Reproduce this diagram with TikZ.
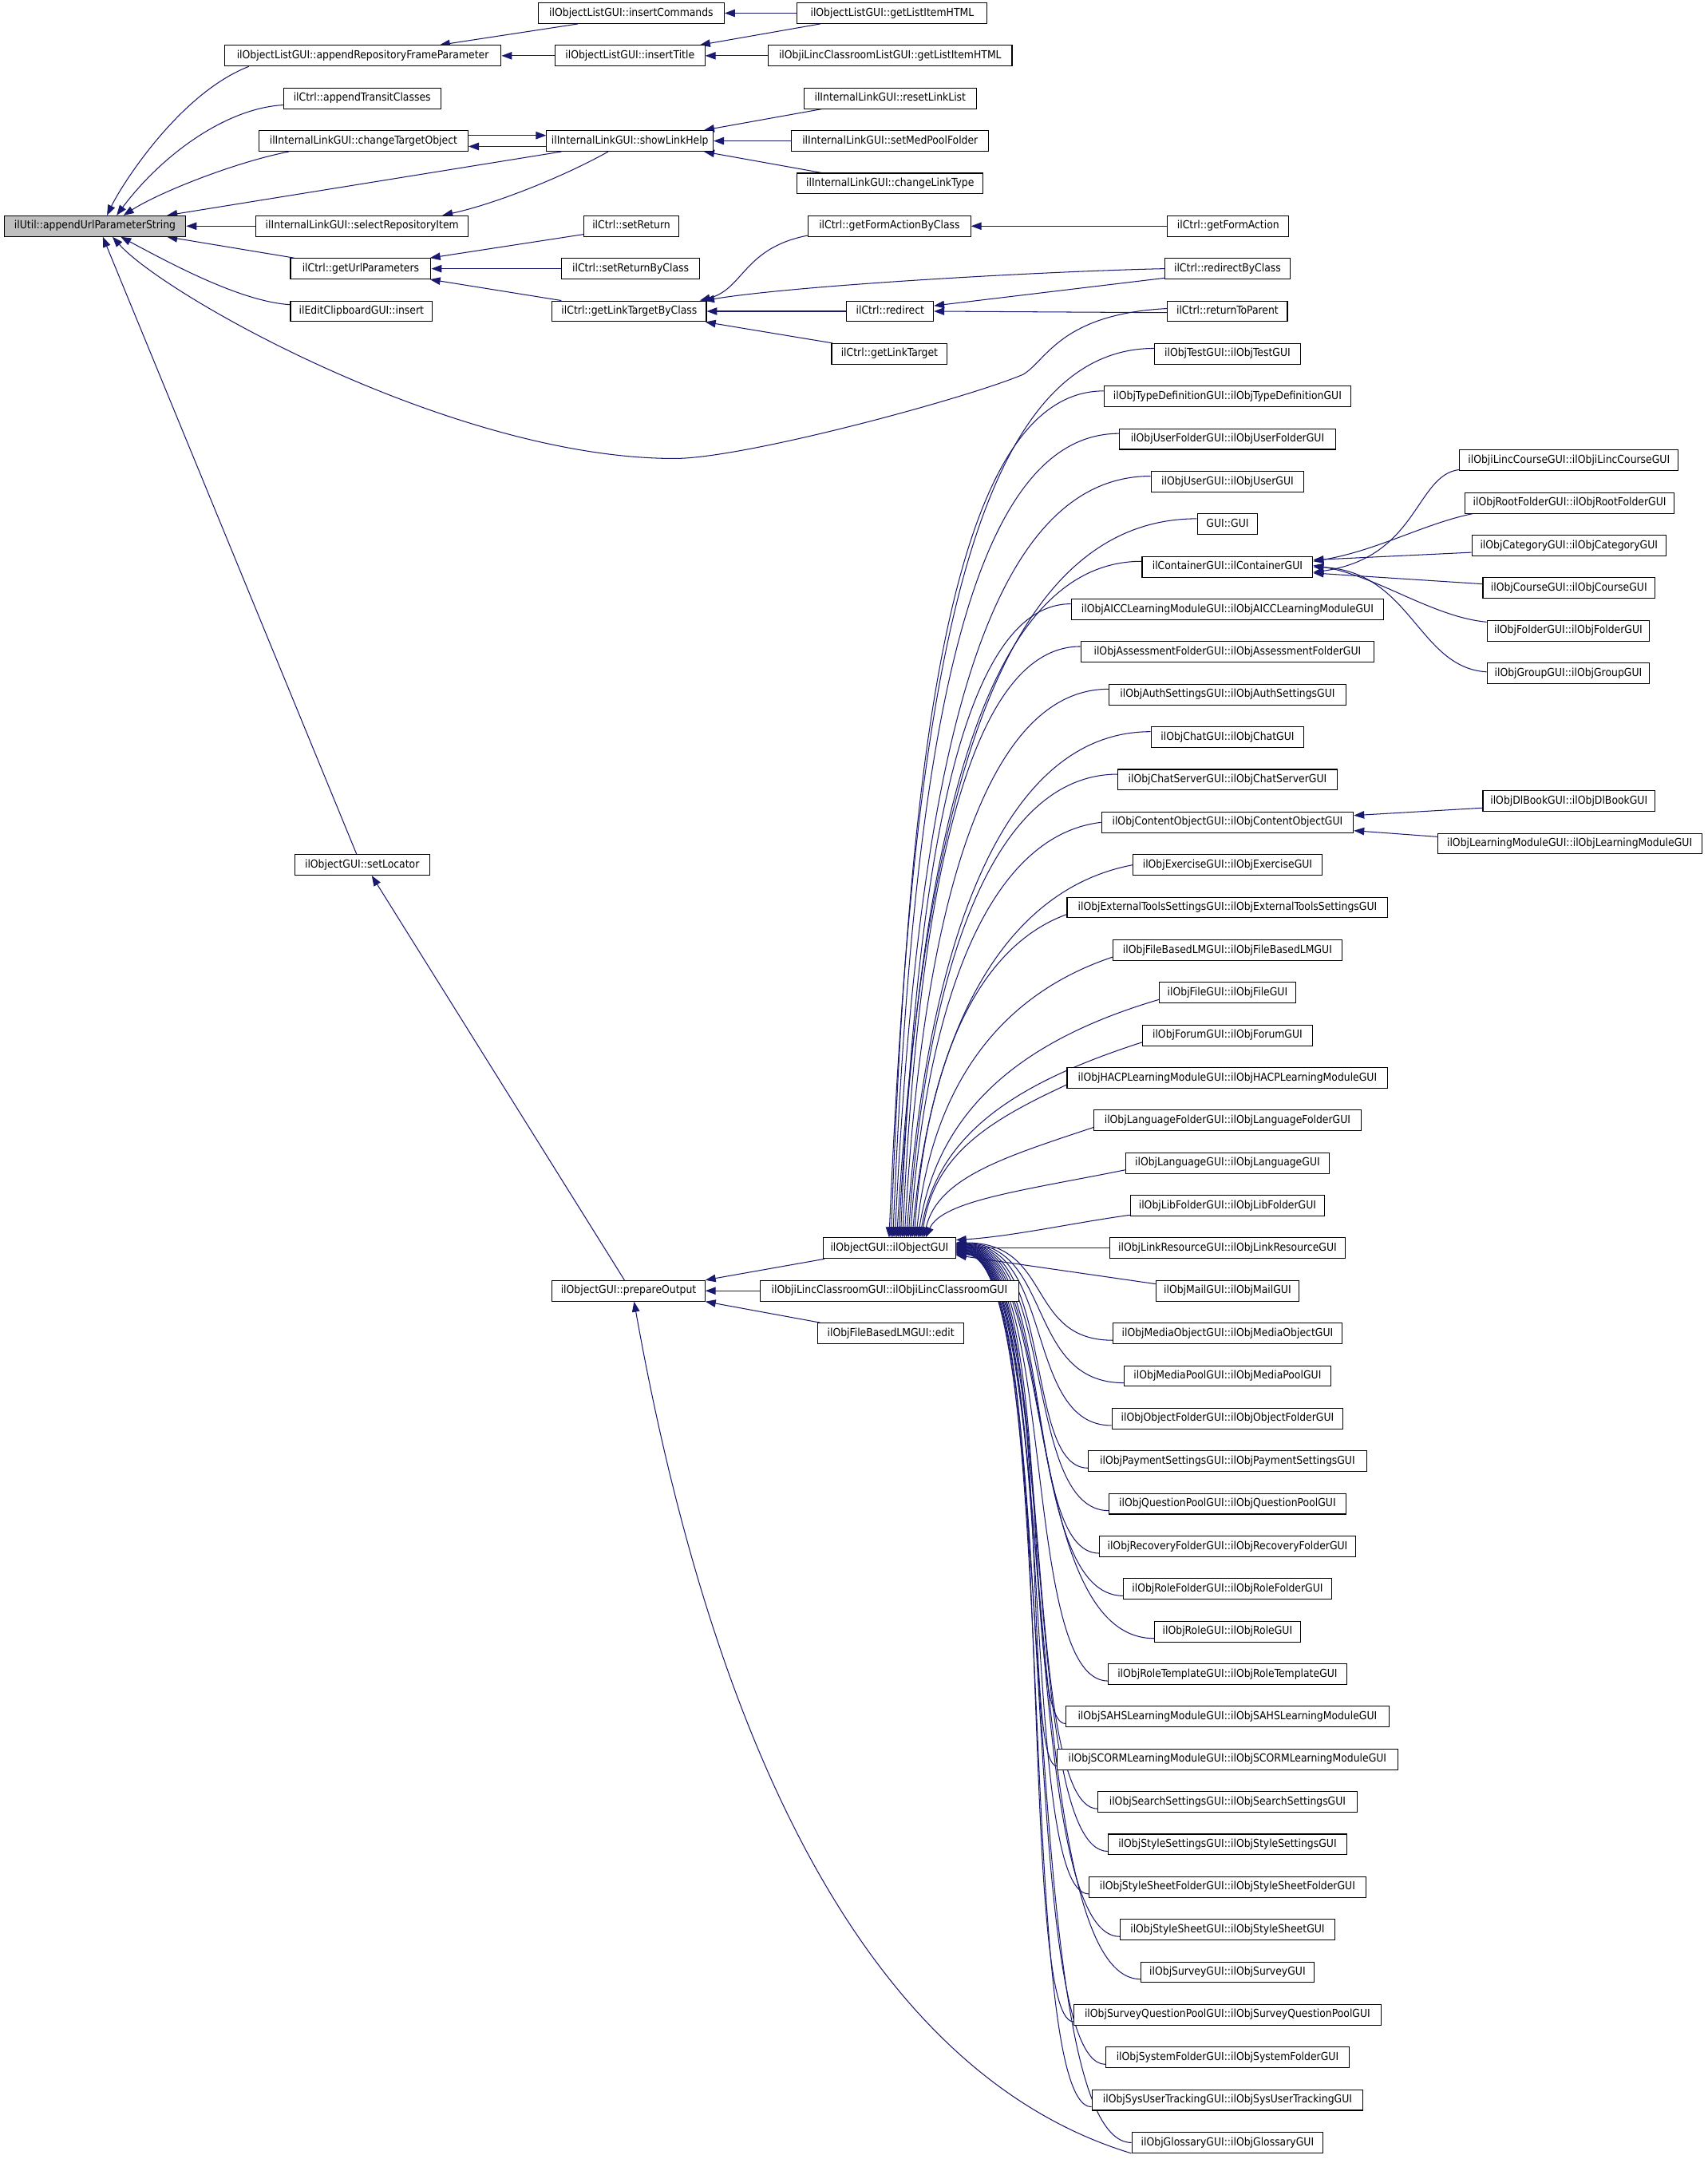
\documentclass[tikz,border=0pt]{standalone}
\usepackage{fontspec}
\setmainfont{DejaVu Sans Condensed}
\usetikzlibrary{arrows.meta,calc,backgrounds}
\definecolor{edgeblue}{HTML}{191970}
\definecolor{rootgray}{HTML}{BFBFBF}
\newcommand{\rowy}[1]{257+30.93*(#1)}
\begin{document}
\begin{tikzpicture}[x=1pt,y=-1pt,
 bx/.style={draw=black,line width=0.6pt,fill=white,minimum width=#1pt,minimum height=15pt,inner xsep=1pt,inner ysep=0pt,font=\fontsize{8}{9}\selectfont,text height=6pt,text depth=1.8pt},
 ed/.style={draw=edgeblue,line width=0.6pt,{Triangle[length=7.5pt,width=5.5pt]}-}]
\useasboundingbox (0,0) rectangle (1240,1568);
% root
\node[bx=132,fill=rootgray] (r) at (69,{\rowy{-3}}) {ilUtil::appendUrlParameterString};
% column 1
\node[bx=201] (arf) at (263.5,{\rowy{-7}}) {ilObjectListGUI::appendRepositoryFrameParameter};
\node[bx=114] (atc) at (263,{\rowy{-6}}) {ilCtrl::appendTransitClasses};
\node[bx=152] (cto) at (264,{\rowy{-5}}) {ilInternalLinkGUI::changeTargetObject};
\node[bx=154] (sri) at (263,{\rowy{-3}}) {ilInternalLinkGUI::selectRepositoryItem};
\node[bx=102] (gup) at (262,{\rowy{-2}}) {ilCtrl::getUrlParameters};
\node[bx=103] (eci) at (262.5,{\rowy{-1}}) {ilEditClipboardGUI::insert};
\node[bx=98] (slo) at (263,{\rowy{12}}) {ilObjectGUI::setLocator};
% column 2
\node[bx=135] (ic) at (458.5,{\rowy{-8}}) {ilObjectListGUI::insertCommands};
\node[bx=109] (it) at (457.5,{\rowy{-7}}) {ilObjectListGUI::insertTitle};
\node[bx=121] (slh) at (457.5,{\rowy{-5}}) {ilInternalLinkGUI::showLinkHelp};
\node[bx=69] (sr) at (458.5,{\rowy{-3}}) {ilCtrl::setReturn};
\node[bx=100] (srb) at (458,{\rowy{-2}}) {ilCtrl::setReturnByClass};
\node[bx=112] (gltc) at (457,{\rowy{-1}}) {ilCtrl::getLinkTargetByClass};
\node[bx=111] (po) at (456.5,{\rowy{22}}) {ilObjectGUI::prepareOutput};
% column 3
\node[bx=138] (glih) at (648,{\rowy{-8}}) {ilObjectListGUI::getListItemHTML};
\node[bx=177] (lclh) at (646.5,{\rowy{-7}}) {ilObjiLincClassroomListGUI::getListItemHTML};
\node[bx=125] (rll) at (646.5,{\rowy{-6}}) {ilInternalLinkGUI::resetLinkList};
\node[bx=143] (smpf) at (646.5,{\rowy{-5}}) {ilInternalLinkGUI::setMedPoolFolder};
\node[bx=135] (clt) at (646.5,{\rowy{-4}}) {ilInternalLinkGUI::changeLinkType};
\node[bx=118] (gfabc) at (646,{\rowy{-3}}) {ilCtrl::getFormActionByClass};
\node[bx=63] (red) at (646.5,{\rowy{-1}}) {ilCtrl::redirect};
\node[bx=84] (glt) at (646,{\rowy{0}}) {ilCtrl::getLinkTarget};
\node[bx=96] (og) at (646,{\rowy{21}}) {ilObjectGUI::ilObjectGUI};
\node[bx=188] (lcg) at (646,{\rowy{22}}) {ilObjiLincClassroomGUI::ilObjiLincClassroomGUI};
\node[bx=106] (fbe) at (647,{\rowy{23}}) {ilObjFileBasedLMGUI::edit};
% column 4
\node[bx=88] (gfa) at (892,{\rowy{-3}}) {ilCtrl::getFormAction};
\node[bx=91] (rbc) at (891.5,{\rowy{-2}}) {ilCtrl::redirectByClass};
\node[bx=87] (rtp) at (891.5,{\rowy{-1}}) {ilCtrl::returnToParent};
\foreach \k/\w/\t in {
0/106/{ilObjTestGUI::ilObjTestGUI},
1/179/{ilObjTypeDefinitionGUI::ilObjTypeDefinitionGUI},
2/157/{ilObjUserFolderGUI::ilObjUserFolderGUI},
3/111/{ilObjUserGUI::ilObjUserGUI},
4/44/{GUI::GUI},
5/124/{ilContainerGUI::ilContainerGUI},
6/227/{ilObjAICCLearningModuleGUI::ilObjAICCLearningModuleGUI},
7/213/{ilObjAssessmentFolderGUI::ilObjAssessmentFolderGUI},
8/172/{ilObjAuthSettingsGUI::ilObjAuthSettingsGUI},
9/111/{ilObjChatGUI::ilObjChatGUI},
10/159/{ilObjChatServerGUI::ilObjChatServerGUI},
11/183/{ilObjContentObjectGUI::ilObjContentObjectGUI},
12/137/{ilObjExerciseGUI::ilObjExerciseGUI},
13/233/{ilObjExternalToolsSettingsGUI::ilObjExternalToolsSettingsGUI},
14/166/{ilObjFileBasedLMGUI::ilObjFileBasedLMGUI},
15/99/{ilObjFileGUI::ilObjFileGUI},
16/123/{ilObjForumGUI::ilObjForumGUI},
17/233/{ilObjHACPLearningModuleGUI::ilObjHACPLearningModuleGUI},
18/194/{ilObjLanguageFolderGUI::ilObjLanguageFolderGUI},
19/148/{ilObjLanguageGUI::ilObjLanguageGUI},
20/141/{ilObjLibFolderGUI::ilObjLibFolderGUI},
21/171/{ilObjLinkResourceGUI::ilObjLinkResourceGUI},
22/104/{ilObjMailGUI::ilObjMailGUI},
23/166/{ilObjMediaObjectGUI::ilObjMediaObjectGUI},
24/150/{ilObjMediaPoolGUI::ilObjMediaPoolGUI},
25/168/{ilObjObjectFolderGUI::ilObjObjectFolderGUI},
26/202/{ilObjPaymentSettingsGUI::ilObjPaymentSettingsGUI},
27/172/{ilObjQuestionPoolGUI::ilObjQuestionPoolGUI},
28/186/{ilObjRecoveryFolderGUI::ilObjRecoveryFolderGUI},
29/151/{ilObjRoleFolderGUI::ilObjRoleFolderGUI},
30/106/{ilObjRoleGUI::ilObjRoleGUI},
31/173/{ilObjRoleTemplateGUI::ilObjRoleTemplateGUI},
32/235/{ilObjSAHSLearningModuleGUI::ilObjSAHSLearningModuleGUI},
33/247/{ilObjSCORMLearningModuleGUI::ilObjSCORMLearningModuleGUI},
34/188/{ilObjSearchSettingsGUI::ilObjSearchSettingsGUI},
35/173/{ilObjStyleSettingsGUI::ilObjStyleSettingsGUI},
36/201/{ilObjStyleSheetFolderGUI::ilObjStyleSheetFolderGUI},
37/156/{ilObjStyleSheetGUI::ilObjStyleSheetGUI},
38/126/{ilObjSurveyGUI::ilObjSurveyGUI},
39/223/{ilObjSurveyQuestionPoolGUI::ilObjSurveyQuestionPoolGUI},
40/177/{ilObjSystemFolderGUI::ilObjSystemFolderGUI},
41/197/{ilObjSysUserTrackingGUI::ilObjSysUserTrackingGUI},
42/139/{ilObjGlossaryGUI::ilObjGlossaryGUI}}{
 \node[bx=\w] (c\k) at (891.5,{\rowy{\k}}) {\t};
}
% column 5
\node[bx=159] (lcc) at (1139.5,{\rowy{2.5}}) {ilObjiLincCourseGUI::ilObjiLincCourseGUI};
\node[bx=152] (rfg) at (1140,{\rowy{3.5}}) {ilObjRootFolderGUI::ilObjRootFolderGUI};
\node[bx=141] (cat) at (1139.5,{\rowy{4.5}}) {ilObjCategoryGUI::ilObjCategoryGUI};
\node[bx=125] (crs) at (1139.5,{\rowy{5.5}}) {ilObjCourseGUI::ilObjCourseGUI};
\node[bx=118] (fld) at (1139,{\rowy{6.5}}) {ilObjFolderGUI::ilObjFolderGUI};
\node[bx=118] (grp) at (1139,{\rowy{7.5}}) {ilObjGroupGUI::ilObjGroupGUI};
\node[bx=125] (dlb) at (1139.5,{\rowy{10.5}}) {ilObjDlBookGUI::ilObjDlBookGUI};
\node[bx=192] (lm) at (1140,{\rowy{11.5}}) {ilObjLearningModuleGUI::ilObjLearningModuleGUI};

\begin{pgfonlayer}{background}
\fill[white] (0,0) rectangle (1240,1568);
% into root
\draw[ed] ($(r.north west)+(75,0)$) .. controls (88,135) and (130,68) .. ($(arf.south west)+(18,0)$);
\draw[ed] ($(r.north west)+(82,0)$) .. controls (118,112) and (165,78) .. ($(atc.south west)+(1,-3)$);
\draw[ed] ($(r.north west)+(87,0)$) .. controls (115,140) and (170,118) .. ($(cto.south west)+(22,0)$);
\draw[ed] ($(r.north east)+(-14,0)$) -- ($(slh.south west)+(11,0)$);
\draw[ed] (r.east) -- (sri.west);
\draw[ed] ($(r.south east)+(-14,0)$) -- ($(gup.north west)+(3,0)$);
\draw[ed] ($(r.south west)+(85,0)$) .. controls (125,192) and (175,219) .. ($(eci.north west)+(0,3)$);
\draw[ed] ($(r.south west)+(72,0)$) -- ($(slo.north)+(-4,0)$);
\draw[ed] ($(r.south west)+(79,0)$) .. controls (120,215) and (330,333) .. (490,333) .. controls (540,333) and (700,290) .. (743,272) .. controls (760,262) and (770,228) .. ($(rtp.west)+(0,-2)$);
% column 1 <- column 2
\draw[ed] ($(arf.north east)+(-45,0)$) -- ($(ic.south west)+(29,0)$);
\draw[ed] (arf.east) -- (it.west);
\draw[ed] ($(cto.east)+(0,4)$) -- ($(slh.west)+(0,4)$);
\draw[ed] ($(slh.west)+(0,-4)$) -- ($(cto.east)+(0,-4)$);
\draw[ed] ($(sri.north east)+(-19,0)$) .. controls (360,148) and (410,128) .. ($(slh.south west)+(45,0)$);
\draw[ed] ($(gup.north east)+(-1,0)$) -- ($(sr.west)+(0,6)$);
\draw[ed] (gup.east) -- (srb.west);
\draw[ed] ($(gup.south east)+(-1,0)$) -- ($(gltc.north west)+(7,0)$);
% column 2 <- column 3
\draw[ed] (ic.east) -- (glih.west);
\draw[ed] ($(it.north east)+(-4,0)$) -- ($(glih.south west)+(17,0)$);
\draw[ed] (it.east) -- (lclh.west);
\draw[ed] ($(slh.north east)+(-7,0)$) -- ($(rll.south west)+(13,0)$);
\draw[ed] (slh.east) -- (smpf.west);
\draw[ed] ($(slh.south east)+(-7,0)$) -- ($(clt.north west)+(18,0)$);
\draw[ed] ($(gltc.north east)+(-5,0)$) .. controls (540,210) and (540,180) .. ($(gfabc.south west)+(0,-1)$);
\draw[ed] ($(gltc.north east)+(-2,0)$) .. controls (580,207) and (760,197) .. (rbc.west);
\draw[ed] (gltc.east) -- (red.west);
\draw[ed] ($(gltc.south east)+(-1,0)$) -- ($(glt.north west)+(1,0)$);
% column 3 <- column 4
\draw[ed] (gfabc.east) -- (gfa.west);
\draw[ed] ($(red.east)+(0,-4)$) -- ($(rbc.south west)+(0,-1)$);
\draw[ed] (red.east) -- ($(rtp.west)+(0,1)$);
% lower part
\draw[ed] (po.north east) -- ($(og.south west)+(1,0)$);
\draw[ed] (po.east) -- (lcg.west);
\draw[ed] (po.south east) -- ($(fbe.north west)+(2,0)$);
\draw[ed] ($(slo.south)+(7,0)$) -- ($(po.north)+(-3,0)$);
\draw[ed] ($(po.south)+(4,0)$) .. controls (514,1245) and (621,1503) .. (c42.south west);
% fan into ilObjectGUI from above
\foreach \k/\w in {0/106,1/179,2/157,3/111,4/44,5/124,6/227,7/213,8/172,9/111,10/159,11/183,12/137,13/233,14/166,15/99,16/123,17/233,18/194,19/148}{
 \pgfmathsetmacro\pXe{646+1.4*\k}
 \pgfmathsetmacro\pXs{891.5-\w/2}
 \pgfmathsetmacro\pOff{(\k<11)*(-4)+(\k>12)*5}
 \pgfmathsetmacro\pYs{\rowy{\k}+\pOff}
 \pgfmathsetmacro\pDx{\pXs-\pXe}
 \pgfmathsetmacro\pDy{899-\pYs}
 \pgfmathsetmacro\pF{0.75-0.013*\k}
 \pgfmathsetmacro\pG{max(0,(\k-10)*0.033)}
 \pgfmathsetmacro\cAx{\pXs-\pF*\pDx}
 \pgfmathsetmacro\cAy{\pYs+\pG*\pDy}
 \pgfmathsetmacro\cBx{\pXe+0.08*\pDx}
 \pgfmathsetmacro\cBy{\pYs+0.45*\pDy}
 \draw[ed] ($(og.north west)+({\pXe-598},0)$) .. controls (\cBx,\cBy) and (\cAx,\cAy) .. ($(c\k.west)+(0,\pOff)$);
}
\draw[ed] ($(og.east)+(0,-6)$) .. controls (735,898) and (780,888) .. ($(c20.south west)+(0,-1)$);
\draw[ed] (og.east) -- (c21.west);
\draw[ed] ($(og.east)+(0,5)$) -- ($(c22.west)+(0,-5)$);
% fan into ilObjectGUI from below
\foreach \k in {23,...,42}{
 \pgfmathsetmacro\pSy{-4+0.45*(\k-23)}
 \pgfmathsetmacro\cAy{906.53+\pSy}
 \pgfmathsetmacro\cAx{765+0.3*(\k-23)}
 \pgfmathsetmacro\cBx{745-0.5*(\k-23)}
 \pgfmathsetmacro\pEo{5*(\k<42)}
 \pgfmathsetmacro\cBy{\rowy{\k}+\pEo}
 \draw[ed] ($(og.east)+(0,\pSy)$) .. controls (\cAx,\cAy) and (\cBx,\cBy) .. ($(c\k.west)+(0,\pEo)$);
}
% into ilContainerGUI
\draw[ed] ($(c5.east)+(0,4)$) .. controls (1030,405) and (1028,345) .. ($(lcc.south west)+(0,-1)$);
\draw[ed] ($(c5.east)+(0,-4)$) .. controls (1000,400) and (1035,380) .. ($(rfg.south west)+(6,0)$);
\draw[ed] ($(c5.east)+(0,-5)$) -- ($(cat.west)+(0,5)$);
\draw[ed] ($(c5.east)+(0,4.5)$) -- ($(crs.west)+(0,-3)$);
\draw[ed] ($(c5.east)+(0,-1)$) .. controls (1000,418) and (1040,448) .. ($(fld.north west)+(0,1.5)$);
\draw[ed] (c5.east) .. controls (1025,415) and (1030,485) .. ($(grp.west)+(0,-1)$);
% into ilObjContentObjectGUI
\draw[ed] ($(c11.east)+(0,-5)$) -- ($(dlb.west)+(0,5)$);
\draw[ed] ($(c11.east)+(0,6)$) -- ($(lm.west)+(0,-5)$);
\end{pgfonlayer}
\end{tikzpicture}
\end{document}
